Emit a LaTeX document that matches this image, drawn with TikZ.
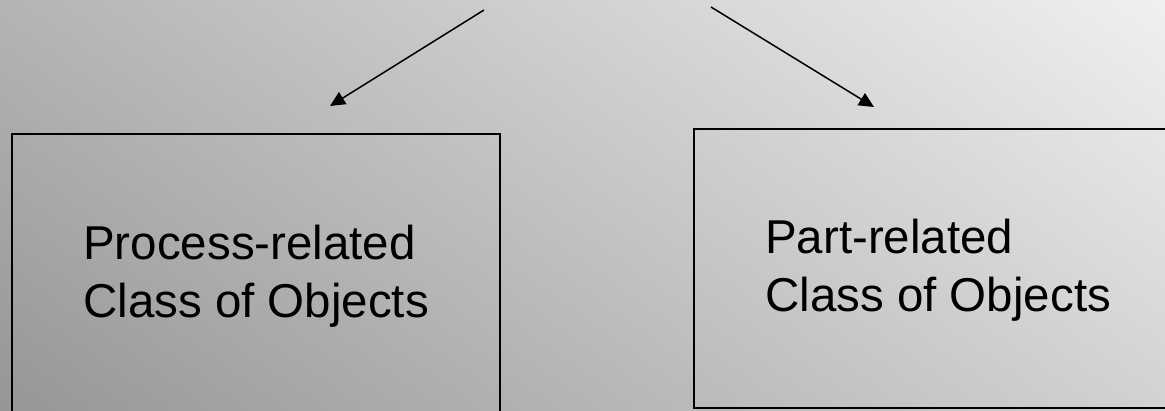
\documentclass[tikz,border=0pt]{standalone}
\usepackage{fontspec}
\setmainfont{Liberation Sans}
\usetikzlibrary{arrows.meta,shadings}
\definecolor{bgUL}{RGB}{180,180,180}
\definecolor{bgUR}{RGB}{240,240,240}
\definecolor{bgLL}{RGB}{150,150,150}
\definecolor{bgLR}{RGB}{210,210,210}
\begin{document}
\begin{tikzpicture}[x=1pt,y=-1pt,
  classbox/.style={draw=black,line width=2pt,rectangle,inner sep=0pt,anchor=north west},
  label/.style={inner sep=0pt,anchor=base west,align=left,font=\fontsize{47.5}{58}\selectfont},
  link/.style={line width=1.5pt,-{Triangle[length=15pt,width=14pt]}}]
\useasboundingbox (0,0) rectangle (1165,410);
\clip (0,0) rectangle (1165,410);
\shade[upper left=bgUL,upper right=bgUR,lower left=bgLL,lower right=bgLR]
  (0,0) rectangle (1165,410);
\node[classbox,minimum width=488pt,minimum height=300pt] (box1) at (11,133) {};
\node[classbox,minimum width=500pt,minimum height=279pt] (box2) at (693,128) {};
\node[label] (t1) at (83,317) {Process-related\\Class of Objects};
\node[label] (t2) at (765,311) {Part-related\\Class of Objects};
\coordinate (s1) at (484,10);
\coordinate (e1) at (330,106);
\coordinate (s2) at (711,7);
\coordinate (e2) at (874,107);
\draw[link] (s1) -- (e1);
\draw[link] (s2) -- (e2);
\end{tikzpicture}
\end{document}
